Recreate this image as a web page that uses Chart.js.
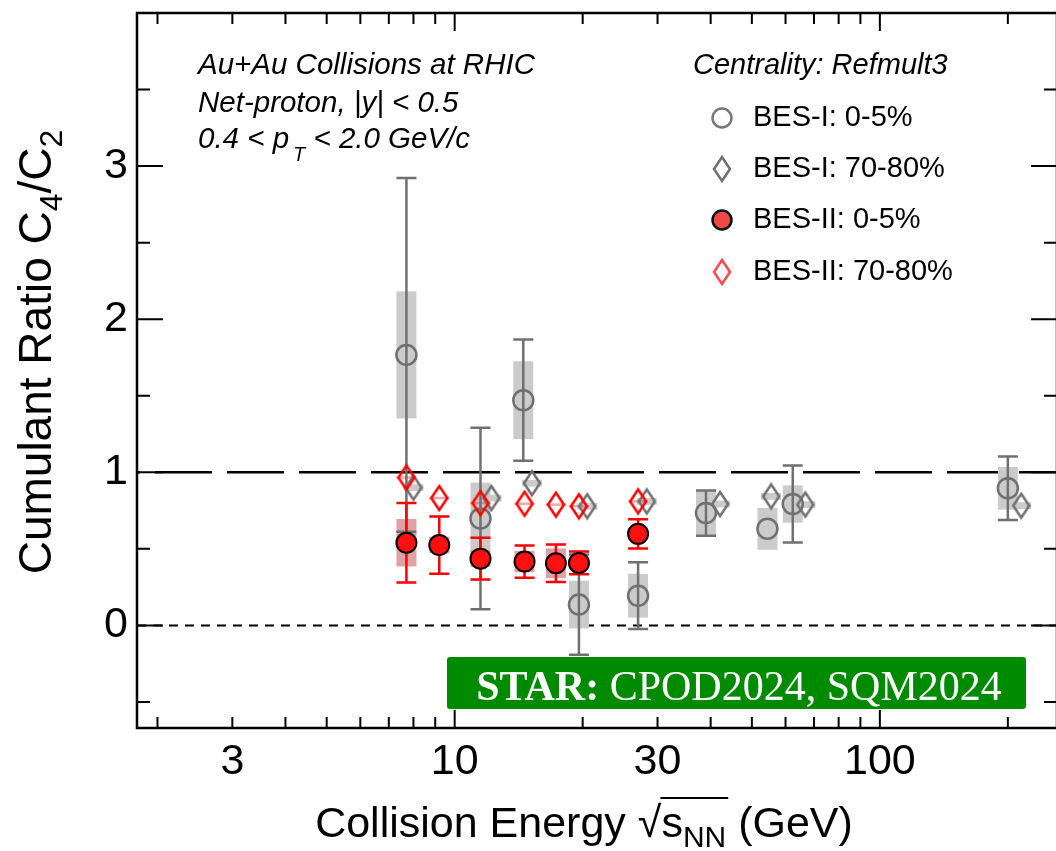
<!DOCTYPE html>
<html lang="en">
<head>
<meta charset="UTF-8">
<title>Net-proton C4/C2 vs Collision Energy</title>
<script src="https://cdn.jsdelivr.net/npm/chart.js"></script>
<style>
  html, body { margin: 0; padding: 0; background: #fff; overflow: hidden; }
</style>
</head>
<body>
<canvas id="c4c2Chart" width="1070" height="851"></canvas>
<script>
// BES-I, 0-5% central
const besIEnergy = [7.7, 11.5, 14.5, 19.6, 27, 39, 54.4, 62.4, 200];
const besICentral = [1.767, 0.698, 1.471, 0.136, 0.194, 0.734, 0.631, 0.793, 0.896];
const besICentralStat = [1.155, 0.593, 0.396, 0.327, 0.218, 0.148, 0, 0.252, 0.208];
const besICentralSys = [0.415, 0.235, 0.254, 0.156, 0.143, 0.146, 0.137, 0.122, 0.14];

// BES-I, 70-80% peripheral (drawn a little to the right of each energy)
const besIPeriphX = [8.0, 12.2, 15.2, 20.5, 28.3, 42.1, 55.5, 66.8, 215];
const besIPeriph = [0.90, 0.832, 0.929, 0.778, 0.81, 0.793, 0.843, 0.789, 0.782];
const besIPeriphSys = [0.022, 0.022, 0.022, 0.022, 0.022, 0.022, 0.022, 0.022, 0.022];

// BES-II
const besIIEnergy = [7.7, 9.2, 11.5, 14.6, 17.3, 19.6, 27];
const besIICentral = [0.54, 0.525, 0.436, 0.417, 0.406, 0.408, 0.598];
const besIICentralStat = [0.26, 0.187, 0.136, 0.105, 0.122, 0.074, 0.096];
const besIICentralSys = [0.155, 0.054, 0.054, 0.07, 0.097, 0.04, 0.04];
const besIIPeriph = [0.966, 0.832, 0.799, 0.795, 0.789, 0.778, 0.81];
const besIIPeriphSys = [0.008, 0.008, 0.008, 0.008, 0.008, 0.008, 0.008];

// axis ticks
const xTicks = [3, 10, 30, 100];
const xMajor = [10, 100];
const xMinor = [2, 3, 4, 5, 6, 7, 8, 9, 20, 30, 40, 50, 60, 70, 80, 90, 200];
const yTicks = [0, 1, 2, 3];
const yMinor = [-0.5, 0.5, 1.5, 2.5, 3.5];

const SANS = "'Liberation Sans', Arial, Helvetica, sans-serif";
const SERIF = "'Liberation Serif', 'Times New Roman', serif";
const GRAY = '#707070';
const RED = '#ff1010';

const points = (xs, ys) => xs.map((x, i) => ({ x: x, y: ys[i] }));

function diamond(color, lw) {
  const c = document.createElement('canvas');
  c.width = 24; c.height = 32;
  const g = c.getContext('2d');
  g.strokeStyle = color;
  g.lineWidth = lw;
  g.lineJoin = 'miter';
  g.beginPath();
  g.moveTo(12, 4); g.lineTo(20, 16); g.lineTo(12, 28); g.lineTo(4, 16);
  g.closePath();
  g.stroke();
  return c;
}
const grayDiamond = diamond(GRAY, 2.5);
const redDiamond = diamond('#ff0000', 2.5);
const redDiamondKey = diamond('#ff4a4a', 2.5);

// text runs: [{t, font, dy}] drawn left to right on one baseline
function runsWidth(ctx, runs) {
  let w = 0;
  runs.forEach(r => { ctx.font = r.font; w += ctx.measureText(r.t).width; });
  return w;
}
function drawRuns(ctx, runs, x, y) {
  const xs = [];
  runs.forEach(r => {
    ctx.font = r.font;
    xs.push(x);
    ctx.fillText(r.t, x, y + (r.dy || 0));
    x += ctx.measureText(r.t).width;
  });
  xs.push(x);
  return xs;
}

const overlay = {
  id: 'overlay',
  beforeDatasetsDraw(chart) {
    const { ctx, chartArea: a, scales: { x, y } } = chart;
    ctx.save();
    ctx.beginPath();
    ctx.rect(a.left, a.top, a.right - a.left, a.bottom - a.top);
    ctx.clip();

    // reference lines at 1 and 0
    ctx.strokeStyle = '#000';
    ctx.lineWidth = 2.5;
    ctx.setLineDash([57, 15]);
    ctx.lineDashOffset = 54;
    ctx.beginPath();
    ctx.moveTo(a.left, y.getPixelForValue(1));
    ctx.lineTo(a.right, y.getPixelForValue(1));
    ctx.stroke();
    ctx.lineWidth = 2;
    ctx.setLineDash([9, 7]);
    ctx.lineDashOffset = 0;
    ctx.beginPath();
    ctx.moveTo(a.left, y.getPixelForValue(0));
    ctx.lineTo(a.right, y.getPixelForValue(0));
    ctx.stroke();
    ctx.setLineDash([]);

    // systematic boxes
    const boxes = (xs, ys, err, color) => {
      ctx.fillStyle = color;
      xs.forEach((xv, i) => {
        const px = x.getPixelForValue(xv);
        const top = y.getPixelForValue(ys[i] + err[i]);
        const bot = y.getPixelForValue(ys[i] - err[i]);
        ctx.fillRect(px - 10, top, 20, bot - top);
      });
    };
    boxes(besIEnergy, besICentral, besICentralSys, '#cbcbcb');
    boxes(besIPeriphX, besIPeriph, besIPeriphSys, '#cbcbcb');
    boxes(besIIEnergy, besIICentral, besIICentralSys, 'rgba(180,30,40,0.42)');
    boxes(besIIEnergy, besIIPeriph, besIIPeriphSys, 'rgba(230,60,60,0.45)');

    // statistical error bars with caps (skipped when hidden by the marker)
    const bars = (xs, ys, err, color) => {
      ctx.strokeStyle = color;
      ctx.lineWidth = 2.5;
      xs.forEach((xv, i) => {
        if (!err[i]) return;
        const px = x.getPixelForValue(xv);
        const top = y.getPixelForValue(ys[i] + err[i]);
        const bot = y.getPixelForValue(ys[i] - err[i]);
        ctx.beginPath();
        ctx.moveTo(px, top); ctx.lineTo(px, bot);
        ctx.moveTo(px - 10, top); ctx.lineTo(px + 10, top);
        ctx.moveTo(px - 10, bot); ctx.lineTo(px + 10, bot);
        ctx.stroke();
      });
    };
    bars(besIEnergy, besICentral, besICentralStat, GRAY);
    bars(besIIEnergy, besIICentral, besIICentralStat, '#ff0000');
    ctx.restore();
  },

  afterDraw(chart) {
    const { ctx, chartArea: a, scales: { x, y } } = chart;
    ctx.save();

    // frame and inward ticks on all sides
    ctx.strokeStyle = '#000';
    ctx.lineWidth = 2;
    ctx.beginPath();
    xMinor.concat(xMajor).forEach(v => {
      const px = x.getPixelForValue(v);
      const len = xMajor.includes(v) ? 18 : 11;
      ctx.moveTo(px, a.bottom); ctx.lineTo(px, a.bottom - len);
      ctx.moveTo(px, a.top); ctx.lineTo(px, a.top + len);
    });
    yMinor.concat(yTicks).forEach(v => {
      const py = y.getPixelForValue(v);
      const len = yTicks.includes(v) ? 26 : 13;
      ctx.moveTo(a.left, py); ctx.lineTo(a.left + len, py);
      ctx.moveTo(a.right, py); ctx.lineTo(a.right - len, py);
    });
    ctx.stroke();
    ctx.lineWidth = 2.5;
    ctx.strokeRect(a.left, a.top, a.right - a.left, a.bottom - a.top);

    ctx.fillStyle = '#000';
    ctx.strokeStyle = '#000';
    ctx.textBaseline = 'alphabetic';
    ctx.textAlign = 'left';

    // x title with sqrt(s_NN)
    const big = '43px ' + SANS;
    const sub = '30px ' + SANS;
    const xRuns = [
      { t: 'Collision Energy ', font: big },
      { t: '\u221A', font: big },
      { t: 's', font: big },
      { t: 'NN', font: sub, dy: 10 },
      { t: ' (GeV)', font: big }
    ];
    const xw = runsWidth(ctx, xRuns);
    const xs = drawRuns(ctx, xRuns, 584 - xw / 2, 837);
    ctx.lineWidth = 2;
    ctx.beginPath();
    ctx.moveTo(xs[2] - 1, 837 - 39);
    ctx.lineTo(xs[4] + 2, 837 - 39);
    ctx.stroke();

    // y title, rotated
    const yBig = '46px ' + SANS;
    const ySub = '32px ' + SANS;
    const yRuns = [
      { t: 'Cumulant Ratio C', font: yBig },
      { t: '4', font: ySub, dy: 11 },
      { t: '/C', font: yBig },
      { t: '2', font: ySub, dy: 11 }
    ];
    ctx.save();
    ctx.translate(51, 352);
    ctx.rotate(-Math.PI / 2);
    const yw = runsWidth(ctx, yRuns);
    drawRuns(ctx, yRuns, -yw / 2, 0);
    ctx.restore();

    // header text, top left
    const it = 'italic 29.5px ' + SANS;
    const itSub = 'italic 20px ' + SANS;
    ctx.textBaseline = 'middle';
    drawRuns(ctx, [{ t: 'Au+Au Collisions at RHIC', font: it }], 198, 66);
    drawRuns(ctx, [{ t: 'Net-proton, |y| < 0.5', font: it }], 198, 104);
    drawRuns(ctx, [
      { t: '0.4 < p', font: it },
      { t: '\u2009T', font: itSub, dy: 15 },
      { t: ' < 2.0 GeV/c', font: it }
    ], 198, 140);

    // legend
    drawRuns(ctx, [{ t: 'Centrality: Refmult3', font: 'italic 29px ' + SANS }], 693, 66);
    const keyFont = '29px ' + SANS;
    const rows = [118, 169, 220, 272];
    const labels = ['BES-I: 0-5%', 'BES-I: 70-80%', 'BES-II: 0-5%', 'BES-II: 70-80%'];
    labels.forEach((t, i) => drawRuns(ctx, [{ t: t, font: keyFont }], 753, rows[i]));
    ctx.lineWidth = 2.5;
    ctx.strokeStyle = '#777';
    ctx.fillStyle = '#fff';
    ctx.beginPath(); ctx.arc(722, rows[0], 9.5, 0, Math.PI * 2); ctx.fill(); ctx.stroke();
    ctx.drawImage(grayDiamond, 710, rows[1] - 16);
    ctx.strokeStyle = '#111';
    ctx.fillStyle = '#f04848';
    ctx.beginPath(); ctx.arc(722, rows[2], 9.5, 0, Math.PI * 2); ctx.fill(); ctx.stroke();
    ctx.drawImage(redDiamondKey, 710, rows[3] - 16);

    // STAR tag
    ctx.fillStyle = '#008a00';
    ctx.beginPath();
    ctx.roundRect(447, 657, 579, 52, 3);
    ctx.fill();
    ctx.fillStyle = '#fff';
    ctx.textBaseline = 'alphabetic';
    const starRuns = [
      { t: 'STAR:', font: 'bold 42px ' + SERIF },
      { t: ' CPOD2024, SQM2024', font: '42px ' + SERIF }
    ];
    const sw = runsWidth(ctx, starRuns);
    drawRuns(ctx, starRuns, 739 - sw / 2, 700);
    ctx.restore();
  }
};

new Chart(document.getElementById('c4c2Chart'), {
  type: 'scatter',
  data: {
    datasets: [
      {
        label: 'BES-II: 0-5%',
        data: points(besIIEnergy, besIICentral),
        pointStyle: 'circle', pointRadius: 10,
        backgroundColor: RED, borderColor: '#000', borderWidth: 2,
        order: 0
      },
      {
        label: 'BES-II: 70-80%',
        data: points(besIIEnergy, besIIPeriph),
        pointStyle: redDiamond, pointRadius: 12,
        order: 1
      },
      {
        label: 'BES-I: 70-80%',
        data: points(besIPeriphX, besIPeriph),
        pointStyle: grayDiamond, pointRadius: 12,
        order: 2
      },
      {
        label: 'BES-I: 0-5%',
        data: points(besIEnergy, besICentral),
        pointStyle: 'circle', pointRadius: 10,
        backgroundColor: 'rgba(0,0,0,0)', borderColor: GRAY, borderWidth: 2.5,
        order: 3
      }
    ]
  },
  options: {
    responsive: false,
    animation: false,
    events: [],
    layout: { padding: { top: 9, right: 10, left: 0, bottom: 0 } },
    plugins: { legend: { display: false }, tooltip: { enabled: false } },
    scales: {
      x: {
        type: 'logarithmic',
        min: 1.79,
        max: 261,
        grid: { display: false, drawTicks: false },
        border: { display: false },
        ticks: {
          font: { family: SANS, size: 43 },
          color: '#000',
          padding: 8,
          maxRotation: 0,
          autoSkip: false,
          callback: v => String(v)
        },
        afterBuildTicks: s => { s.ticks = xTicks.map(v => ({ value: v })); },
        afterFit: s => { s.height = 123; s.paddingLeft = 0; s.paddingRight = 0; }
      },
      y: {
        min: -0.67,
        max: 4,
        grid: { display: false, drawTicks: false },
        border: { display: false },
        ticks: {
          font: { family: SANS, size: 43 },
          color: '#000',
          padding: 9,
          callback: v => String(v)
        },
        afterBuildTicks: s => { s.ticks = yTicks.map(v => ({ value: v })); },
        afterFit: s => { s.width = 137; s.paddingTop = 0; s.paddingBottom = 0; }
      }
    }
  },
  plugins: [overlay]
});
</script>
</body>
</html>
